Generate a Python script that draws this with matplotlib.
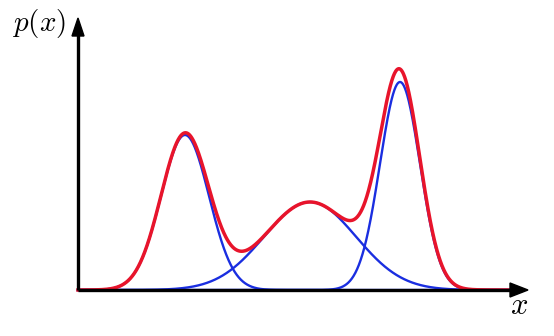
import numpy as np
import matplotlib
matplotlib.use("Agg")
import matplotlib.pyplot as plt

plt.rcParams['mathtext.fontset'] = 'cm'

# Gaussian mixture components (in axis units)
means = [107, 232, 322]
sigmas = [24, 46, 20]
peaks = [155, 88, 208]

x = np.linspace(0, 440, 1500)
comps = [p * np.exp(-0.5 * ((x - m) / s) ** 2) for m, s, p in zip(means, sigmas, peaks)]
total = np.sum(comps, axis=0)

fig = plt.figure(figsize=(5.54, 3.36), dpi=100)
ax = fig.add_axes([0, 0, 1, 1])
ax.set_xlim(-78, 476)
ax.set_ylim(-46, 290)
ax.axis('off')

for c in comps:
    ax.plot(x, c, color='#1a2ee0', lw=1.7, zorder=2)
ax.plot(x, total, color='#e8142b', lw=2.5, zorder=3)

# axes with arrows
ax.plot([0, 436], [0, 0], color='black', lw=2.4, zorder=4, solid_capstyle='butt')
ax.plot([0, 0], [0, 258], color='black', lw=2.4, zorder=4, solid_capstyle='butt')
ax.add_patch(plt.Polygon([[450, 0], [432, 7], [432, -7]], closed=True, color='black', zorder=5))
ax.add_patch(plt.Polygon([[0, 272], [-6, 254], [6, 254]], closed=True, color='black', zorder=5))

ax.text(-39, 266, r'$p(x)$', fontsize=21, ha='center', va='center')
ax.text(441, -16, r'$x$', fontsize=22, ha='center', va='center')

fig.savefig('out.png', dpi=100)
